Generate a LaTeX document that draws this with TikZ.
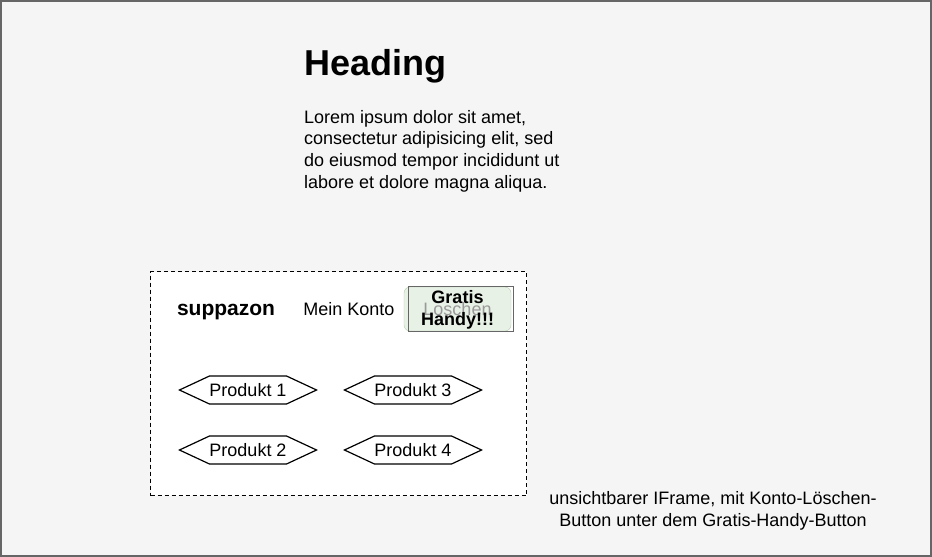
\documentclass[tikz,border=0pt]{standalone}
\usepackage{fontspec}
\setmainfont{Liberation Sans}
\usetikzlibrary{shapes.symbols}
\definecolor{rahmen}{HTML}{666666}
\definecolor{grund}{HTML}{F5F5F5}
\definecolor{knopfgruen}{HTML}{E8F1E6}
\definecolor{knopfrand}{HTML}{B3CDAA}
\definecolor{knopftext}{HTML}{999999}
\newcommand{\px}[1]{\fontsize{#1}{1.2\dimexpr#1pt\relax}\selectfont}

\begin{document}
\begin{tikzpicture}[x=1pt,y=-1pt,
        produkt/.style={draw, line width=1.2pt, signal, signal to=east and west, signal pointer angle=50,
            minimum width=137pt, minimum height=28pt, inner sep=0pt, font=\px{18}}]
        \useasboundingbox (0,0) rectangle (932,557);
        \draw[draw=rahmen, fill=grund, line width=2pt] (1,1) rectangle (931,556);
        \node[anchor=base west, inner sep=0pt, font=\bfseries\px{36}] (heading) at (304,75) {Heading};
        \node[anchor=north west, inner sep=0pt, align=left, font=\px{18}] (lorem) at (304,110)
            {Lorem ipsum dolor sit amet,\\consectetur adipisicing elit, sed\\do eiusmod tempor incididunt ut\\labore et dolore magna aliqua.};
        \node[draw, fill=white, dash pattern=on 4pt off 3pt, line width=1.2pt,
            minimum width=376pt, minimum height=224pt, anchor=north west] (iframe) at (150,271) {};
        \node[font=\bfseries\px{21}] (logo) at (226,312) {suppazon};
        \node[font=\px{18}] (konto) at (349,309) {Mein Konto};
        \node[draw=knopfrand, fill=knopfgruen, rounded corners=6pt, text=knopftext,
            minimum width=107pt, minimum height=44pt, font=\px{18}] (loeschen) at (457.5,309) {Loschen};
        \node[draw=rahmen, line width=1pt, minimum width=105pt, minimum height=45pt] (gratis) at (460.5,308.5) {};
        \node[align=center, inner sep=0pt, font=\bfseries\fontsize{18}{22}\selectfont] (gratistext) at (457.5,310) {Gratis\\Handy!!!};
        \foreach \n/\Point in {1/{(248,390)}, 2/{(248,450)}, 3/{(413,390)}, 4/{(413,450)}}{
            \node[produkt] (p\n) at \Point {Produkt \n};
        }
        \node[align=center, font=\px{18}] (hinweis) at (713,511)
            {unsichtbarer IFrame, mit Konto-Löschen-\\Button unter dem Gratis-Handy-Button};
    \end{tikzpicture}
\end{document}
